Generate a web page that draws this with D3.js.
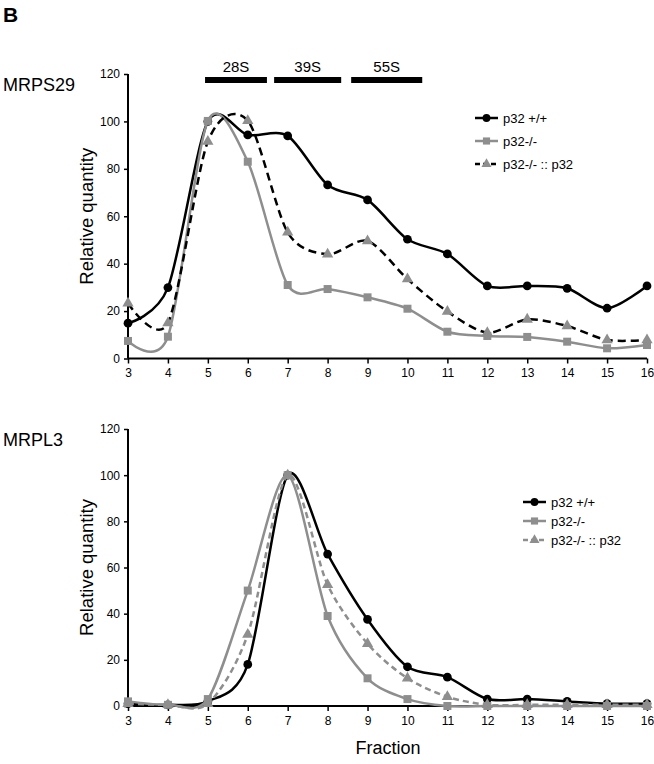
<!DOCTYPE html>
<html>
<head>
<meta charset="utf-8">
<script src="https://cdn.jsdelivr.net/npm/d3@7"></script>
<style>
  body { margin: 0; background: #fff; }
  svg text { font-family: "Liberation Sans", Arial, Helvetica, sans-serif; fill: #000; }
</style>
</head>
<body>
<svg id="chart" width="654" height="764"></svg>
<script>
// Fractions on the x axis
const fractions = [3, 4, 5, 6, 7, 8, 9, 10, 11, 12, 13, 14, 15, 16];
const yTicks = [0, 20, 40, 60, 80, 100, 120];

// MRPS29 (panel 1)
const mrps29Wt   = [14.9, 29.9, 100, 94.3, 93.9, 73.2, 66.9, 50.3, 44.1, 30.6, 30.6, 29.6, 21.2, 30.6];
const mrps29Ko   = [7.4, 9.2, 100.2, 83, 31, 29.3, 25.8, 21, 11.3, 9.5, 9.1, 7.1, 4.3, 5.7];
const mrps29Resc = [23.3, 15, 91.5, 100.3, 53.2, 44, 49.6, 33.5, 19.8, 10.9, 16.5, 13.7, 7.8, 7.8];

// MRPL3 (panel 2)
const mrpl3Wt   = [1, 0.5, 2, 18, 100, 65.8, 37.5, 17, 12.5, 3, 3, 2, 1, 1];
const mrpl3Ko   = [2, 0.5, 3, 50, 100, 39, 12, 3, 0, 0, 0, 0, 0, 0];
const mrpl3Resc = [1, 0.5, 1, 31, 100, 52.5, 27, 12, 4, 0.5, 0.5, 0.5, 0.5, 0.5];

const seriesNames = ['p32 +/+', 'p32-/-', 'p32-/- :: p32'];

// Sedimentation markers (fraction ranges)
const peakLabels = ['28S', '39S', '55S'];
const peakRanges = [[4.93, 6.48], [6.66, 8.34], [8.59, 10.37]];

const GREY = '#8e8e8e';
const svg = d3.select('#chart');

svg.append('text').attr('x', 3).attr('y', 22)
    .attr('font-size', '21px').attr('font-weight', 'bold').text('B');

function drawPanel(opts) {
    const x = d3.scaleLinear().domain([3, 16]).range([128, 647]);
    const y = d3.scaleLinear().domain([0, 120]).range([opts.y0, opts.y120]);
    const g = svg.append('g');

    // axes
    const yAxis = g.append('g').attr('transform', 'translate(128,0)')
        .call(d3.axisLeft(y).tickValues(yTicks).tickSize(4).tickPadding(4));
    const xAxis = g.append('g').attr('transform', `translate(0,${opts.y0})`)
        .call(d3.axisBottom(x).tickValues(fractions).tickSize(5).tickPadding(5).tickFormat(d3.format('d')));
    [yAxis, xAxis].forEach(a => {
        a.select('.domain').attr('stroke', '#000').attr('stroke-width', 2);
        a.selectAll('.tick line').attr('stroke', '#000').attr('stroke-width', 1.5);
        a.selectAll('.tick text').attr('font-size', '12px')
            .attr('font-family', '"Liberation Sans", Arial, sans-serif').attr('fill', '#000');
    });
    yAxis.select('.domain').attr('d', `M0,${opts.y0}V${opts.y120}`);
    xAxis.select('.domain').attr('d', `M${x(3)},0H${x(16)}`);

    g.append('text')
        .attr('transform', `translate(93,${(opts.y0 + opts.y120) / 2}) rotate(-90)`)
        .attr('text-anchor', 'middle').attr('font-size', '18.5px').text('Relative quantity');

    g.append('text').attr('x', 3).attr('y', opts.y120 + 17)
        .attr('font-size', '18px').text(opts.title);

    // Excel-style smoothed line
    const line = d3.line()
        .x((d, i) => x(fractions[i]))
        .y(d => y(d))
        .curve(d3.curveCardinal.tension(0.15));

    const series = [
        { values: opts.wt, stroke: '#000', dash: null, marker: 'circle', fill: '#000' },
        { values: opts.ko, stroke: GREY, dash: null, marker: 'square', fill: GREY },
        { values: opts.resc, stroke: opts.rescStroke, dash: opts.rescDash, marker: 'triangle', fill: GREY }
    ];

    const symbolFor = m => m === 'circle' ? d3.symbolCircle : m === 'square' ? d3.symbolSquare : d3.symbolTriangle;
    const sizeFor = m => m === 'circle' ? 60 : m === 'square' ? 64 : 55;

    series.forEach(s => {
        g.append('path').datum(s.values)
            .attr('d', line).attr('fill', 'none')
            .attr('stroke', s.stroke).attr('stroke-width', 2.5)
            .attr('stroke-dasharray', s.dash);
        g.selectAll(null).data(s.values).enter().append('path')
            .attr('transform', (d, i) => `translate(${x(fractions[i])},${y(d)})`)
            .attr('d', d3.symbol().type(symbolFor(s.marker)).size(sizeFor(s.marker)))
            .attr('fill', s.fill);
    });

    // legend
    const lg = g.append('g');
    series.forEach((s, i) => {
        const ly = opts.legendY + i * opts.legendGap;
        lg.append('line').attr('x1', opts.legendX).attr('x2', opts.legendX + 23)
            .attr('y1', ly).attr('y2', ly)
            .attr('stroke', s.stroke).attr('stroke-width', 2.5)
            .attr('stroke-dasharray', s.dash ? '5,3' : null);
        lg.append('path')
            .attr('transform', `translate(${opts.legendX + 11.5},${ly})`)
            .attr('d', d3.symbol().type(symbolFor(s.marker)).size(sizeFor(s.marker) * 0.8))
            .attr('fill', s.fill);
        lg.append('text').attr('x', opts.legendX + 28).attr('y', ly + 4.5)
            .attr('font-size', '13px').text(seriesNames[i]);
    });
    return { x, y, g };
}

const topPanel = drawPanel({
    title: 'MRPS29', y0: 358.5, y120: 74,
    wt: mrps29Wt, ko: mrps29Ko, resc: mrps29Resc,
    rescStroke: '#000', rescDash: '8,5',
    legendX: 475, legendY: 118, legendGap: 23
});

// 28S / 39S / 55S bars
peakRanges.forEach((r, i) => {
    topPanel.g.append('rect')
        .attr('x', topPanel.x(r[0])).attr('y', 77)
        .attr('width', topPanel.x(r[1]) - topPanel.x(r[0])).attr('height', 6)
        .attr('fill', '#000');
    topPanel.g.append('text')
        .attr('x', (topPanel.x(r[0]) + topPanel.x(r[1])) / 2).attr('y', 72)
        .attr('text-anchor', 'middle').attr('font-size', '15px').text(peakLabels[i]);
});

drawPanel({
    title: 'MRPL3', y0: 706, y120: 429,
    wt: mrpl3Wt, ko: mrpl3Ko, resc: mrpl3Resc,
    rescStroke: GREY, rescDash: '6,4',
    legendX: 523, legendY: 502, legendGap: 19
});

svg.append('text').attr('x', 388).attr('y', 754)
    .attr('text-anchor', 'middle').attr('font-size', '18px').text('Fraction');
</script>
</body>
</html>
